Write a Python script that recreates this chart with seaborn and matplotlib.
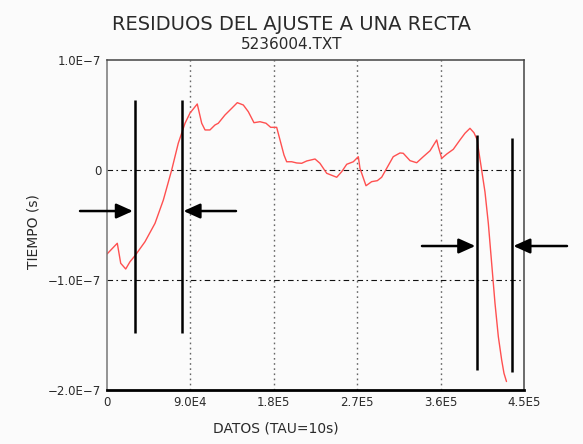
import numpy as np
import pandas as pd
import seaborn as sb
import matplotlib.pyplot as plt

# residuos (x en datos, y en ns)
datos = [0, 11100, 14800, 20200, 24800, 30200, 41000, 51800, 60800, 69800,
         76900, 84200, 89600, 97400, 102200, 105800, 111100, 116500, 120100, 127300,
         134600, 140600, 147100, 152500, 158600, 165100, 171600, 176600, 183100, 186700,
         191000, 193900, 199300, 204700, 210100, 215500, 224500, 229800, 237100, 247900,
         253300, 258700, 265800, 271200, 273000, 279500, 285600, 291700, 296400, 301800,
         308900, 316200, 319700, 327000, 334200, 341300, 348600, 355800, 357500, 361200,
         366600, 373700, 380900, 386300, 391700, 396000, 399600, 400700, 404300, 407900,
         411500, 415100, 418700, 422300, 425900, 428400, 431100]
resid_ns = [-76.4, -66.6, -84.8, -90.0, -83.4, -77.9, -65.2, -48.5, -27.3, 0.0,
            24.3, 42.5, 51.8, 60.0, 42.5, 36.4, 36.4, 40.9, 42.5, 50.0,
            56.1, 61.2, 59.1, 53.0, 43.0, 43.9, 42.5, 38.8, 38.8, 27.3,
            13.6, 7.5, 7.5, 6.4, 6.1, 8.2, 10.0, 6.1, -3.0, -6.6,
            -1.5, 5.2, 7.5, 12.1, 1.5, -14.3, -10.6, -9.7, -6.6, 1.5,
            12.1, 15.5, 15.2, 8.5, 6.6, 12.1, 17.5, 27.3, 21.2, 10.6,
            14.5, 18.8, 27.3, 33.4, 37.9, 33.9, 27.3, 19.7, 0.0, -20.0,
            -48.5, -84.8, -121.2, -151.5, -172.7, -184.8, -192.3]

xticks = [0, 90000, 180000, 270000, 360000, 450000]
xlabels = ['0', '9.0E4', '1.8E5', '2.7E5', '3.6E5', '4.5E5']
yticks = [1e-7, 0, -1e-7, -2e-7]
ylabels = ['1.0E\u22127', '0', '\u22121.0E\u22127', '\u22122.0E\u22127']

# marcas verticales (x, y_arriba, y_abajo) y flechas (cola, punta, y)
marcas = [(30200, 0.636e-7, -1.48e-7), (80900, 0.636e-7, -1.48e-7),
          (399600, 0.318e-7, -1.82e-7), (437000, 0.29e-7, -1.84e-7)]
flechas = [(-29100, 28000, -0.373e-7), (139200, 82500, -0.373e-7),
           (339900, 397500, -0.691e-7), (496400, 438500, -0.691e-7)]

df = pd.DataFrame({'x': datos, 'y': np.array(resid_ns) * 1e-9})

sb.set_style('white')
plt.rcParams['font.family'] = ['DejaVu Sans']
bg = '#fbfbfb'
txt = '#2a2a2a'

fig = plt.figure(figsize=(5.83, 4.44), dpi=100, facecolor=bg)
ax = fig.add_axes([107/583, 1-390/444, 417/583, 330/444], facecolor=bg)

sb.lineplot(x='x', y='y', data=df, color='#ff5050', lw=1.0, sort=False, estimator=None, ax=ax)

ax.set_xlim(0, 450000)
ax.set_ylim(-2e-7, 1e-7)
ax.set_xticks(xticks)
ax.set_xticklabels(xlabels)
ax.set_yticks(yticks)
ax.set_yticklabels(ylabels)
ax.tick_params(length=0, pad=4, labelsize=8.5, colors=txt)

for xv in xticks[1:-1]:
    ax.axvline(xv, color='#666666', lw=1.0, ls=(0, (1.2, 2.5)), zorder=0)
for yv in yticks[1:3]:
    ax.axhline(yv, color='#111111', lw=0.8, ls=(0, (5, 3, 1.5, 3)), zorder=0)

for s in ['top', 'right']:
    ax.spines[s].set_color('#444444')
    ax.spines[s].set_linewidth(1.1)
ax.spines['left'].set_color('#777777')
ax.spines['left'].set_linewidth(1.1)
ax.spines['bottom'].set_color('black')
ax.spines['bottom'].set_linewidth(2.0)

for xm, y0, y1 in marcas:
    ax.vlines(xm, y1, y0, color='black', lw=1.8, clip_on=False)

for x0, x1, yv in flechas:
    ax.annotate('', xy=(x1, yv), xytext=(x0, yv), annotation_clip=False,
                arrowprops=dict(arrowstyle='-|>,head_length=1.0,head_width=0.45',
                                mutation_scale=10, lw=1.8, color='black',
                                shrinkA=0, shrinkB=0))

ax.set_xlabel('DATOS (TAU=10s)', fontsize=10, color=txt)
ax.set_ylabel('TIEMPO (s)', fontsize=10, color=txt)
ax.xaxis.set_label_coords(0.405, -0.095)
ax.yaxis.set_label_coords(-0.16, 0.48)

fig.text(0.5, 1-24.5/444, 'RESIDUOS DEL AJUSTE A UNA RECTA', ha='center', va='center',
         fontsize=14, color=txt)
fig.text(0.5, 1-44.5/444, '5236004.TXT', ha='center', va='center', fontsize=11, color=txt)

fig.savefig('out.png', dpi=100, facecolor=bg)
